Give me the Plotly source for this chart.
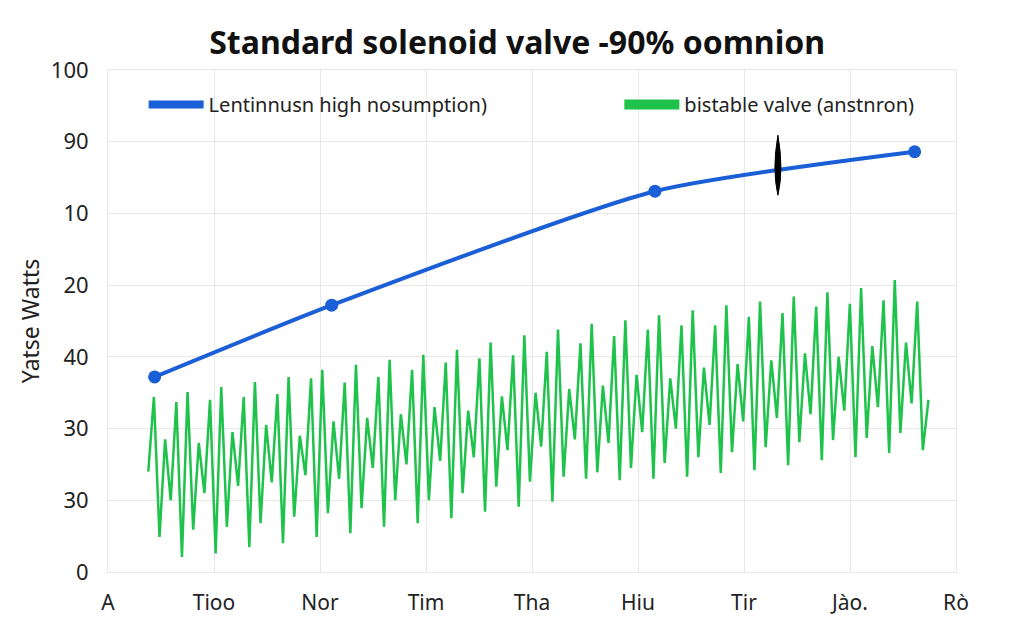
import plotly.graph_objects as go

# ---- data ----
x_labels = ["A", "Tioo", "Nor", "Tim", "Tha", "Hiu", "Tir", "Jào.", "Rò"]
y_tick_labels = ["0", "30", "30", "40", "20", "10", "90", "100"]

blue_name = "Lentinnusn high nosumption)"
blue_x = [0.44, 2.11, 5.16, 7.61]
blue_y = [2.72, 3.72, 5.31, 5.86]

green_name = "bistable valve (anstnron)"
peaks_a = [2.44, 2.51, 2.58, 2.65, 2.72, 2.82, 2.89, 2.96, 3.03, 3.10, 3.20, 3.30,
           3.38, 3.46, 3.51, 3.58, 3.65, 3.72, 3.77, 3.84, 3.90, 3.96, 4.07]
troughs_a = [0.49, 0.59, 0.63, 0.68, 0.77, 0.82, 0.89, 1.00, 1.00, 1.10, 1.19, 1.26,
             1.33, 1.39, 1.45, 1.52, 1.60, 1.67, 1.74, 1.81, 1.84, 1.87, 1.94]
peaks_small = [1.85, 1.80, 1.95, 2.05, 1.90, 2.10, 2.15, 2.20, 2.30, 2.25, 2.45, 2.50,
               2.55, 2.60, 2.75, 2.70, 2.85, 2.90, 2.95, 3.05, 3.00, 3.15, 3.20]
troughs_small = [1.00, 1.10, 1.20, 1.25, 1.35, 1.30, 1.45, 1.50, 1.55, 1.60, 1.70, 1.75,
                 1.85, 1.80, 1.95, 2.00, 2.05, 2.10, 2.15, 2.20, 2.25, 2.30, 2.35]
peaks_b = [2.37, 2.40, 2.44, 2.48, 2.70, 2.64, 2.72, 2.82, 2.92, 2.98, 3.02, 3.07,
           3.19, 3.29, 3.38, 3.44, 3.44, 3.56, 3.61, 3.70, 3.74, 3.79, 3.77]
troughs_deep = [0.21, 0.26, 0.35, 0.40, 0.49, 0.54, 0.63, 0.68, 0.75, 0.84, 0.91, 0.98,
                1.30, 1.28, 1.30, 1.33, 1.38, 1.42, 1.49, 1.56, 1.60, 1.66, 1.70]
green_start_y = 1.40
green_end_y = 2.40
green_x_start = 0.38
green_x_end = 7.74

spike_x = 6.32
spike_y = 5.70

# ---- build green series ----
green_y = [green_start_y]
for a, b, c, d, e, f in zip(peaks_a, troughs_a, peaks_small, troughs_small, peaks_b, troughs_deep):
    green_y += [a, b, c, d, e, f]
green_y.append(green_end_y)
n = len(green_y)
green_x = [green_x_start + (green_x_end - green_x_start) * i / (n - 1) for i in range(n)]

BLUE = "#1a5fd6"
GREEN = "#1fc24a"
FONT = "Noto Sans"

fig = go.Figure()

fig.add_trace(go.Scatter(
    x=green_x, y=green_y, mode="lines", name=green_name, showlegend=False,
    line=dict(color=GREEN, width=2.5),
))
fig.add_trace(go.Scatter(
    x=blue_x, y=blue_y, mode="lines+markers", name=blue_name, showlegend=False,
    line=dict(color=BLUE, width=4, shape="spline", smoothing=0.6),
    marker=dict(color=BLUE, size=13),
))
# legend-only entries
fig.add_trace(go.Scatter(x=[None], y=[None], mode="lines", name=blue_name,
                         legend="legend", line=dict(color=BLUE, width=8)))
fig.add_trace(go.Scatter(x=[None], y=[None], mode="lines", name=green_name,
                         legend="legend2", line=dict(color=GREEN, width=12)))

# black spindle annotation
fig.add_shape(
    type="path", xref="x", yref="y", xsizemode="pixel", ysizemode="pixel",
    xanchor=spike_x, yanchor=spike_y,
    path="M 0,28 Q 6,-6 0,-32 Q -6,-6 0,28 Z",
    fillcolor="black", line=dict(color="black", width=1),
)

legend_common = dict(orientation="h", yanchor="top", xanchor="left",
                     bgcolor="rgba(0,0,0,0)", itemwidth=55,
                     font=dict(family=FONT, size=20, color="#222222"))

fig.update_layout(
    width=1024, height=640,
    margin=dict(l=108, r=68, t=70, b=68),
    paper_bgcolor="white", plot_bgcolor="white",
    font=dict(family=FONT, color="#222222", size=20),
    title=dict(text="<b>Standard solenoid valve -90% oomnion</b>",
               x=0.505, xanchor="center", y=0.933, yanchor="middle",
               font=dict(family=FONT, size=32, color="#111111")),
    legend=dict(x=0.042, y=0.97, **legend_common),
    legend2=dict(x=0.603, y=0.97, **legend_common),
    xaxis=dict(range=[0, 8], tickmode="array", tickvals=list(range(9)),
               ticktext=x_labels, showgrid=True, gridcolor="#e8e8e8",
               showline=True, linecolor="#e8e8e8", mirror=True, zeroline=False,
               ticks="", ticklabelstandoff=12, tickfont=dict(size=21)),
    yaxis=dict(range=[0, 7], tickmode="array", tickvals=list(range(8)),
               ticktext=y_tick_labels, showgrid=True, gridcolor="#e8e8e8",
               showline=True, linecolor="#e8e8e8", mirror=True, zeroline=False,
               ticks="", ticklabelstandoff=14, tickfont=dict(size=22),
               title=dict(text="Yatse Watts", font=dict(size=23), standoff=4)),
)

fig.write_html("out.html")
